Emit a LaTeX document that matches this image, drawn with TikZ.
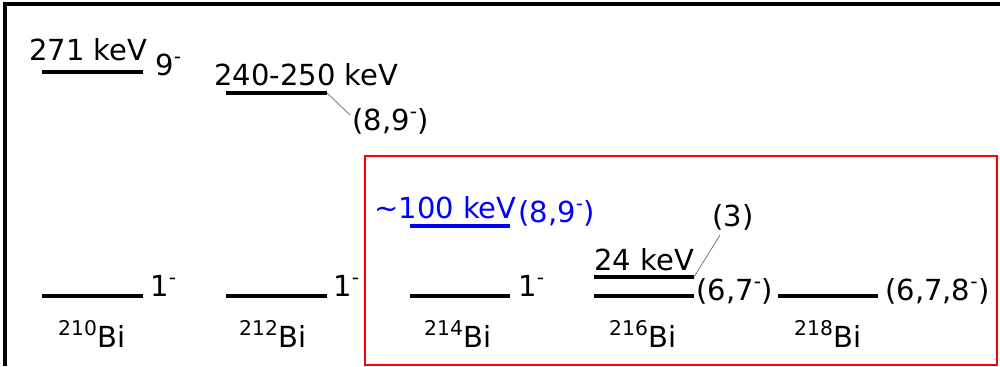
\documentclass[tikz,border=0pt]{standalone}
\usepackage{fontspec}
\setmainfont{DejaVu Sans}
\usepackage{xcolor}
\usetikzlibrary{positioning}
\tikzstyle{level} = [line width=2.2pt, line cap=butt]
\tikzstyle{pointer} = [gray, line width=0.5pt]
\tikzstyle{lbl} = [inner sep=0pt, font=\fontsize{16.5}{19}\selectfont]

\begin{document}
\begin{tikzpicture}[x=0.02cm, y=-0.02cm]
\useasboundingbox (0,0) rectangle (1000,366);
% Frames
\draw[line width=2.2pt] (5,366) -- (5,4) -- (1000,4);
\draw[red, line width=1.5pt] (365,156) rectangle (997,365);

% Upper levels
\draw[level] (42,72) coordinate (u210w) -- (143,72) coordinate (u210e);
\node[lbl, anchor=base west] (e210) at (29,60) {271 keV};
\node[lbl, anchor=base west] (s210) at (155,75) {9\textsuperscript{-}};

\draw[level] (226,93) coordinate (u212w) -- (327,93) coordinate (u212e);
\node[lbl, anchor=base west] (e212) at (214,85) {240-250 keV};
\node[lbl, anchor=base west] (s212) at (352,130) {(8,9\textsuperscript{-})};
\coordinate (p212) at (350,115);
\draw[pointer] (u212e) -- (p212);

\draw[level, blue] (410,226) coordinate (u214w) -- (510,226) coordinate (u214e);
\node[lbl, blue, anchor=base west] (e214) at (374,218) {\textasciitilde 100 keV};
\node[lbl, blue, anchor=base west] (s214) at (518,222) {(8,9\textsuperscript{-})};

\draw[level] (594,277) coordinate (u216w) -- (694,277) coordinate (u216e);
\node[lbl, anchor=base west] (e216) at (594,270) {24 keV};
\node[lbl, anchor=base west] (s216u) at (712,226) {(3)};
\coordinate (p216) at (720,235);
\draw[pointer] (u216e) -- (p216);

% Ground states
\draw[level] (42,296) coordinate (g210w) -- (143,296) coordinate (g210e);
\draw[level] (226,296) coordinate (g212w) -- (327,296) coordinate (g212e);
\draw[level] (410,296) coordinate (g214w) -- (510,296) coordinate (g214e);
\draw[level] (594,296) coordinate (g216w) -- (694,296) coordinate (g216e);
\draw[level] (778,296) coordinate (g218w) -- (878,296) coordinate (g218e);

\node[lbl, anchor=base west] (j210) at (150,296) {1\textsuperscript{-}};
\node[lbl, anchor=base west] (j212) at (333,296) {1\textsuperscript{-}};
\node[lbl, anchor=base west] (j214) at (518,296) {1\textsuperscript{-}};
\node[lbl, anchor=base west] (j216) at (696,300) {(6,7\textsuperscript{-})};
\node[lbl, anchor=base west] (j218) at (885,300) {(6,7,8\textsuperscript{-})};

% Isotopes
\node[lbl, anchor=base] (bi210) at (92,347) {\textsuperscript{210}Bi};
\node[lbl, anchor=base] (bi212) at (273,347) {\textsuperscript{212}Bi};
\node[lbl, anchor=base] (bi214) at (458,347) {\textsuperscript{214}Bi};
\node[lbl, anchor=base] (bi216) at (643,347) {\textsuperscript{216}Bi};
\node[lbl, anchor=base] (bi218) at (828,347) {\textsuperscript{218}Bi};
\end{tikzpicture}
\end{document}
